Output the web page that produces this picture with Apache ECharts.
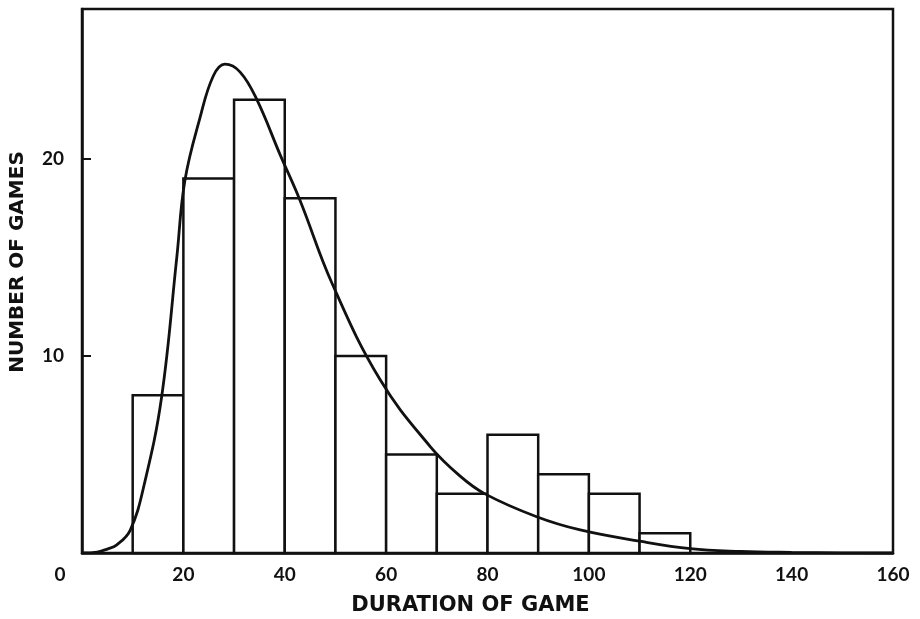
<!DOCTYPE html>
<html>
<head>
<meta charset="utf-8">
<script src="https://cdn.jsdelivr.net/npm/echarts@6/dist/echarts.min.js"></script>
<style>
  html, body { margin: 0; padding: 0; background: #fff; }
  #chart { width: 920px; height: 619px; }
</style>
</head>
<body>
<div id="chart"></div>
<script>
// histogram bins (minutes) and counts
const binStart = [10, 20, 30, 40, 50, 60, 70, 80, 90, 100, 110]
const binEnd = [20, 30, 40, 50, 60, 70, 80, 90, 100, 110, 120]
const counts = [8, 19, 23, 18, 10, 5, 3, 6, 4, 3, 1]

// fitted curve
const curveX = [0, 3, 5, 6.8, 9.5, 12.3, 15.7, 18.7, 20.3, 23.3, 25.9, 28.2, 31.2, 34.5, 39.1, 43, 49.3, 58.8, 68.7, 74.6, 79.5, 89.7, 98.3, 110, 120, 130, 140, 150, 160]
const curveY = [0, 0.05, 0.2, 0.4, 1.15, 3.5, 7.9, 15, 18.9, 22.1, 24.2, 24.8, 24.4, 23.0, 20.2, 17.9, 13.7, 8.8, 5.4, 3.9, 3.0, 1.84, 1.17, 0.6, 0.22, 0.08, 0.03, 0.01, 0]

const xTicks = [0, 20, 40, 60, 80, 100, 120, 140, 160]
const yTicks = [10, 20]

const font = 'Lato'
const nameFont = 'DejaVu Sans'
const ink = '#111'

let chart = echarts.init(document.getElementById('chart'))

let barData = binStart.map((s, i) => [s, binEnd[i], counts[i]])
let curveData = curveX.map((x, i) => [x, curveY[i]])

chart.setOption({
  animation: false,
  backgroundColor: '#fff',
  grid: {
    left: 82, right: 27, top: 9, bottom: 66,
    outerBoundsMode: 'none', containLabel: false,
    show: true, borderColor: ink, borderWidth: 2.5, backgroundColor: 'transparent'
  },
  xAxis: {
    type: 'value', min: 0, max: 160, interval: 20,
    name: 'DURATION OF GAME',
    nameLocation: 'middle', nameGap: 42,
    nameTextStyle: { fontFamily: nameFont, fontWeight: 'bold', fontSize: 21, color: ink, padding: [0, 34, 0, 0] },
    axisLine: { show: true, lineStyle: { color: ink, width: 2.5 } },
    axisTick: { show: false },
    splitLine: { show: false },
    axisLabel: {
      margin: 12, fontFamily: font, fontWeight: 'bold', fontSize: 19, color: ink,
      // the 0 label sits left of the corner in the original
      formatter: v => xTicks.indexOf(v) < 0 ? '' : (v === 0 ? '{z|0}' : String(v)),
      rich: { z: { fontFamily: font, fontWeight: 'bold', fontSize: 19, color: ink, padding: [0, 44, 0, 0] } }
    }
  },
  yAxis: {
    type: 'value', min: 0, max: 27.6, interval: 10,
    name: 'NUMBER OF GAMES',
    nameLocation: 'middle', nameGap: 54, nameRotate: 90,
    nameTextStyle: { fontFamily: nameFont, fontWeight: 'bold', fontSize: 20, color: ink, padding: [0, 0, 0, 38] },
    axisLine: { show: true, lineStyle: { color: ink, width: 2.5 } },
    axisTick: { show: true, inside: true, length: 9, lineStyle: { color: ink, width: 2 } },
    splitLine: { show: false },
    axisLabel: {
      margin: 18, fontFamily: font, fontWeight: 'bold', fontSize: 19, color: ink,
      formatter: v => yTicks.indexOf(v) < 0 ? '' : String(v)
    }
  },
  series: [
    {
      type: 'custom',
      data: barData,
      encode: { x: [0, 1], y: 2 },
      renderItem: (params, api) => {
        let p0 = api.coord([api.value(0), 0])
        let p1 = api.coord([api.value(1), api.value(2)])
        return {
          type: 'rect',
          shape: { x: p0[0], y: p1[1], width: p1[0] - p0[0], height: p0[1] - p1[1] },
          style: { fill: '#fff', stroke: ink, lineWidth: 2.5 }
        }
      },
      z: 1
    },
    {
      type: 'line',
      data: curveData,
      smooth: 0.4,
      showSymbol: false,
      lineStyle: { color: ink, width: 2.8 },
      z: 2
    }
  ]
})
</script>
</body>
</html>
